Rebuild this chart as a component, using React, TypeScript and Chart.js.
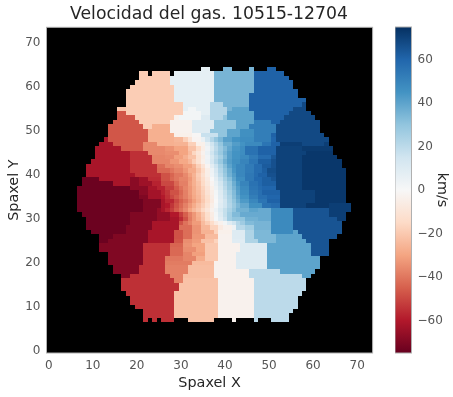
import React, { useEffect, useRef } from "react";
import { Chart, registerables } from "chart.js";

Chart.register(...registerables);

const TITLE = "Velocidad del gas. 10515-12704";
const X_LABEL = "Spaxel X";
const Y_LABEL = "Spaxel Y";
const BAR_LABEL = "km/s";
const AXIS_TICKS = [0, 10, 20, 30, 40, 50, 60, 70];
const BAR_TICKS = [-60, -40, -20, 0, 20, 40, 60];
const V_MIN = -75;
const V_MAX = 75;
const TOP_ROW = 64;

// RdBu colormap stops, low to high
const COLOR_STOPS = [
  [103, 0, 31], [178, 24, 43], [214, 96, 77], [244, 165, 130], [253, 219, 199],
  [247, 247, 247], [209, 229, 240], [146, 197, 222], [67, 147, 195], [33, 102, 172], [5, 48, 97],
];

// Each row, from the top of the map: first column, then (value, last column) pairs; null is a gap.
const ROWS: (number | null)[][] = [
  [35, 7,36, null,39, 35,41, null,45, 35,46, null,49, 61,51],
  [21, -19,22, null,23, -19,27, null,28, 7,37, 35,46, 61,53],
  [21, -19,27, 7,37, 35,46, 61,54],
  [20, -19,27, 7,37, 35,46, 61,55],
  [19, -19,28, 7,37, 35,46, 61,55],
  [18, -19,28, 7,37, 35,46, 61,56],
  [18, -19,28, 7,37, 35,45, 61,56],
  [18, -19,28, 7,37, 35,45, 61,58],
  [18, -19,30, 7,36, 22,39, 35,45, 61,57, 68,58],
  [16, -21,17, -19,30, 7,31, 2,33, 7,36, 22,40, 35,41, 40,45, 61,55, 68,58],
  [16, -47,17, -19,30, 2,34, 7,36, 22,40, 40,46, 61,54, 68,59],
  [16, -47,19, -19,28, -3,29, 2,34, 10,36, 22,39, 30,40, 40,46, 61,53, 68,60],
  [15, -47,20, -19,27, -3,32, 10,37, 30,42, 40,46, 52,50, 61,52, 68,61],
  [14, -47,21, -19,23, -27,27, -3,32, 10,37, 30,42, 40,45, 52,51, 68,61],
  [14, -47,22, -27,27, -3,32, 10,36, 30,40, 40,43, 46,46, 52,51, 68,61],
  [14, -47,22, -27,28, -4,32, -1,34, 17,38, 30,40, 40,43, 46,46, 52,50, 61,51, 68,62],
  [13, -62,13, -47,22, -27,28, -25,30, -18,31, -10,32, -2,34, 5,35, 15,36, 22,37, 29,38, 34,39, 41,41, 45,43, 47,46, 52,50, 60,51, 68,63],
  [12, -62,14, -47,21, -36,24, -27,28, -26,31, -18,33, -4,35, 6,36, 15,37, 22,38, 29,39, 37,41, 42,43, 45,44, 48,48, 55,50, 61,52, 71,57, 68,62, 71,63],
  [11, -62,16, -47,21, -36,26, -34,28, -30,31, -22,33, -14,34, -5,35, 3,36, 12,37, 20,38, 27,39, 33,40, 39,41, 44,43, 47,44, 56,47, 61,51, 70,57, 72,64],
  [11, -62,18, -55,22, -36,26, -35,29, -30,31, -24,32, -16,33, -10,34, -3,35, 5,36, 15,37, 22,38, 28,39, 35,40, 41,41, 45,43, 47,44, 56,47, 61,51, 70,58, 73,64],
  [11, -62,18, -55,23, -37,26, -36,28, -31,30, -27,31, -22,33, -12,34, -5,35, 3,36, 12,37, 19,38, 25,39, 33,40, 41,41, 45,43, 48,45, 53,47, 58,50, 64,51, 70,57, 73,65],
  [10, -62,18, -55,23, -37,27, -33,29, -29,31, -25,32, -18,33, -12,34, -4,35, 4,36, 13,37, 21,38, 28,39, 36,40, 42,41, 46,43, 50,45, 55,47, 62,50, 66,51, 70,57, 73,66],
  [9, -62,18, -55,24, -42,26, -37,28, -35,30, -31,32, -26,33, -18,34, -10,35, -2,36, 8,37, 16,38, 24,39, 32,40, 40,41, 45,42, 49,44, 53,46, 58,48, 63,50, 66,51, 70,57, 73,66],
  [9, -62,18, -55,24, -43,27, -40,28, -37,30, -33,31, -28,33, -21,34, -14,35, -5,36, 4,37, 13,38, 22,39, 30,40, 37,41, 44,42, 49,44, 53,46, 58,48, 62,49, 67,51, 70,57, 73,67],
  [9, -62,19, -55,25, -48,27, -44,28, -40,30, -36,31, -31,32, -26,33, -19,34, -12,35, -5,36, 3,37, 11,38, 20,39, 28,40, 36,41, 42,42, 49,44, 54,46, 58,47, 61,49, 66,51, 70,57, 73,67],
  [8, -74,11, -62,18, -68,20, -64,22, -56,25, -48,27, -43,28, -40,29, -37,31, -33,32, -27,33, -20,34, -14,35, -7,36, 0,37, 8,38, 17,39, 25,40, 32,41, 40,42, 47,44, 54,46, 59,48, 62,50, 65,51, 70,57, 73,67],
  [8, -74,14, -62,18, -68,20, -64,23, -58,25, -50,28, -43,29, -38,31, -32,32, -27,33, -22,34, -15,35, -8,36, -2,37, 6,38, 14,39, 22,40, 29,41, 37,42, 44,43, 50,45, 56,47, 59,48, 62,51, 70,57, 73,67],
  [7, -74,18, -68,22, -62,24, -58,26, -52,28, -46,29, -41,30, -37,31, -33,32, -28,33, -23,34, -17,35, -10,36, -4,37, 4,38, 12,39, 20,40, 28,41, 35,42, 42,43, 48,45, 55,47, 58,48, 60,51, 70,57, 73,67],
  [7, -74,20, -68,22, -63,25, -58,26, -54,27, -48,29, -43,30, -38,31, -33,32, -28,33, -24,34, -18,35, -11,36, -5,37, 2,38, 10,39, 18,40, 26,41, 33,42, 41,43, 47,45, 54,47, 57,48, 61,52, 70,60, 73,67],
  [7, -74,20, -70,22, -63,25, -60,26, -55,27, -50,28, -46,29, -42,30, -38,31, -34,32, -29,33, -25,34, -19,35, -13,36, -6,37, 1,38, 9,39, 17,40, 24,41, 32,42, 39,43, 45,45, 52,47, 57,49, 60,52, 70,60, 73,67],
  [7, -74,21, -70,25, -62,26, -57,28, -50,29, -45,30, -41,31, -36,32, -31,33, -26,34, -20,35, -14,36, -7,37, 0,38, 8,39, 15,40, 23,41, 30,42, 37,43, 43,45, 49,47, 55,49, 61,52, 70,60, 73,67],
  [7, -74,21, -70,25, -62,26, -60,27, -54,28, -48,29, -43,30, -38,31, -33,32, -28,33, -23,34, -18,35, -12,36, -5,37, 1,38, 9,39, 15,40, 22,41, 28,42, 34,43, 39,45, 46,48, 56,50, 58,52, 70,58, 73,63, 71,68],
  [7, -74,21, -70,24, -66,25, -62,26, -57,27, -52,28, -46,29, -41,30, -36,31, -30,32, -25,33, -21,34, -15,35, -9,36, -3,37, 4,38, 12,39, 18,40, 24,41, 30,42, 36,45, 40,47, 38,50, 48,55, 65,63, 71,68],
  [8, -74,18, -70,24, -66,27, -60,29, -52,30, -45,31, -38,32, -33,33, -27,34, -20,35, -13,36, -6,37, 2,38, 10,39, 18,40, 26,41, 33,43, 38,46, 38,50, 48,55, 65,63, 71,67],
  [9, -74,18, -70,24, -66,27, -62,29, -56,30, -48,31, -39,32, -33,33, -28,34, -21,35, -14,36, -7,37, 1,38, 8,39, 16,40, 26,41, 30,44, 36,47, 38,50, 48,55, 65,65, 71,67],
  [9, -74,18, -70,23, -62,29, -48,30, -41,31, -37,32, -32,34, -24,35, -19,36, -14,37, -7,38, -3,39, 2,40, 9,41, 15,42, 22,43, 27,44, 33,46, 35,50, 48,55, 65,66],
  [9, -74,17, -70,23, -62,29, -42,32, -34,34, -25,36, -17,38, -7,39, -3,41, 4,42, 21,44, 26,46, 35,50, 48,55, 65,66],
  [10, -74,17, -70,22, -62,28, -48,30, -42,32, -34,34, -26,37, -17,38, -4,41, 10,44, 23,46, 34,50, 48,55, 40,56, 65,66],
  [12, -74,14, -70,22, -62,28, -48,30, -42,32, -33,35, -24,38, -3,41, 10,44, 23,46, 34,51, 40,57, 65,65],
  [12, -74,13, -70,22, -62,28, -47,30, -35,32, -32,34, -22,37, -17,38, -3,41, 9,44, 23,47, 34,51, 40,58, 65,63],
  [12, -70,21, -55,27, -44,30, -34,32, -30,35, -20,38, -3,43, 10,49, 40,59, 65,63],
  [12, -70,21, -55,27, -43,30, -35,33, -30,35, -20,38, -3,43, 10,49, 40,59, 65,63],
  [14, -70,21, -55,27, -43,30, -37,32, -31,35, -20,38, -3,42, 10,49, 40,59, 65,63],
  [14, -70,21, -55,26, -40,30, -37,33, -28,35, -20,38, -3,42, 10,49, 40,61],
  [14, -70,21, -55,26, -39,32, -24,37, -3,42, 10,49, 40,61],
  [15, -70,20, -55,26, -38,31, -23,37, -3,42, 10,49, 40,61],
  [15, -70,20, -55,26, -38,31, -23,37, -3,45, 20,52, 40,60],
  [17, -70,18, -55,27, -38,30, -23,37, -3,45, 20,57, 40,59],
  [17, -55,28, -38,30, -22,38, -3,46, 20,58],
  [17, -55,29, -22,38, -3,46, 20,58],
  [17, -55,29, -22,38, -3,46, 20,58],
  [18, -55,28, -22,38, -3,46, 20,57],
  [19, -55,28, -22,38, -3,46, 20,56],
  [19, -55,28, -22,38, -3,46, 20,56],
  [20, -55,28, -22,38, -3,46, 20,56],
  [22, -55,28, -22,38, -3,46, 20,55],
  [22, -55,28, -22,38, -3,46, 20,54],
  [22, -55,22, null,23, -55,24, null,25, -55,28, null,31, -22,37, null,41, -3,42, null,46, 20,47, null,50, 20,54],
];

function colorOf(v: number): string {
  const t = Math.min(0.9999, Math.max(0, (v - V_MIN) / (V_MAX - V_MIN))) * (COLOR_STOPS.length - 1);
  const i = Math.floor(t);
  const f = t - i;
  const a = COLOR_STOPS[i];
  const b = COLOR_STOPS[i + 1];
  return `rgb(${a.map((c, n) => Math.round(c + (b[n] - c) * f)).join(",")})`;
}

function cellsFromRows() {
  const cells: { x: number; y: number; v: number }[] = [];
  ROWS.forEach((row, k) => {
    let col = row[0] as number;
    for (let i = 1; i < row.length; i += 2) {
      const v = row[i];
      const end = row[i + 1] as number;
      for (; col <= end; col++) {
        if (v !== null) cells.push({ x: col, y: TOP_ROW - k, v });
      }
    }
  });
  return cells;
}

const FONT = "'DejaVu Sans'";
const TICK_COLOR = "#555555";
const SPINE = "#b0b0b0";

const frame = (fill: boolean) => ({
  id: "frame",
  beforeDatasetsDraw(chart: any) {
    if (!fill) return;
    const a = chart.chartArea;
    chart.ctx.save();
    chart.ctx.fillStyle = "#000000";
    chart.ctx.fillRect(a.left, a.top, a.width, a.height);
    chart.ctx.restore();
  },
  afterDatasetsDraw(chart: any) {
    const a = chart.chartArea;
    chart.ctx.save();
    chart.ctx.strokeStyle = SPINE;
    chart.ctx.lineWidth = 1;
    chart.ctx.strokeRect(a.left, a.top, a.width, a.height);
    chart.ctx.restore();
  },
});

// Paints each point element as one pixel-snapped image cell, so no seams appear between cells.
const snappedCells = {
  id: "snappedCells",
  beforeDatasetDraw(chart: any, args: any) {
    const { x: sx, y: sy } = chart.scales;
    const hw = Math.abs(sx.getPixelForValue(1) - sx.getPixelForValue(0)) / 2;
    const hh = Math.abs(sy.getPixelForValue(1) - sy.getPixelForValue(0)) / 2;
    const ctx = chart.ctx;
    ctx.save();
    args.meta.data.forEach((el: any) => {
      const x0 = Math.round(el.x - hw);
      const x1 = Math.round(el.x + hw);
      const y0 = Math.round(el.y - hh);
      const y1 = Math.round(el.y + hh);
      ctx.fillStyle = el.options.backgroundColor;
      ctx.fillRect(x0, y0, x1 - x0, y1 - y0);
    });
    ctx.restore();
    return false;
  },
};

export default function App() {
  const mapRef = useRef<HTMLCanvasElement>(null);
  const barRef = useRef<HTMLCanvasElement>(null);

  useEffect(() => {
    const map = new Chart(mapRef.current!, {
      type: "scatter",
      data: {
        datasets: [
          {
            data: cellsFromRows() as any,
            pointStyle: "rect",
            pointRadius: 3.11,
            borderWidth: 0,
            backgroundColor: (c: any) => (c.raw ? colorOf(c.raw.v) : "#000"),
          },
        ],
      },
      options: {
        animation: false,
        responsive: false,
        events: [],
        layout: { padding: { top: 0, right: 0, left: 0, bottom: 5 } },
        plugins: {
          legend: { display: false },
          tooltip: { enabled: false },
          title: {
            display: true,
            text: TITLE,
            color: "#262626",
            font: { family: FONT, size: 17.25, weight: "normal" },
            padding: { top: 4, bottom: 2.6 },
          },
        },
        scales: {
          x: {
            type: "linear",
            min: -0.5,
            max: 73.5,
            grid: { display: false, drawTicks: false },
            border: { display: false },
            afterFit: (s: any) => { s.height = 39; },
            afterBuildTicks: (s: any) => { s.ticks = AXIS_TICKS.map((value) => ({ value })); },
            ticks: { color: TICK_COLOR, font: { family: FONT, size: 12 }, padding: 6, maxRotation: 0, autoSkip: false },
            title: { display: true, text: X_LABEL, color: "#262626", font: { family: FONT, size: 14.4 }, padding: { top: 1, bottom: 0 } },
          },
          y: {
            type: "linear",
            min: -0.5,
            max: 73.5,
            grid: { display: false, drawTicks: false },
            border: { display: false },
            afterFit: (s: any) => { s.width = 46.5; },
            afterBuildTicks: (s: any) => { s.ticks = AXIS_TICKS.map((value) => ({ value })); },
            ticks: { color: TICK_COLOR, font: { family: FONT, size: 12 }, padding: 6, autoSkip: false },
            title: { display: true, text: Y_LABEL, color: "#262626", font: { family: FONT, size: 14.4 }, padding: { top: 6, bottom: 2 } },
          },
          // Empty axis that only reserves the room right of the map, so the title centres over it.
          spacer: {
            type: "linear",
            position: "right",
            grid: { display: false, drawTicks: false },
            border: { display: false },
            ticks: { display: false },
            afterFit: (s: any) => { s.width = 45.4; },
          },
        },
      },
      plugins: [frame(true), snappedCells],
    } as any);

    const bar = new Chart(barRef.current!, {
      type: "bar",
      data: {
        labels: [BAR_LABEL],
        datasets: [
          {
            data: [[V_MIN, V_MAX]] as any,
            barPercentage: 1,
            categoryPercentage: 1,
            backgroundColor: (c: any) => {
              const a = c.chart.chartArea;
              if (!a) return "#888";
              const g = c.chart.ctx.createLinearGradient(0, a.bottom, 0, a.top);
              COLOR_STOPS.forEach((s, i) => g.addColorStop(i / (COLOR_STOPS.length - 1), `rgb(${s.join(",")})`));
              return g;
            },
          },
        ],
      },
      options: {
        animation: false,
        responsive: false,
        events: [],
        layout: { padding: { top: 27, right: 3, left: 0, bottom: 44 } },
        plugins: { legend: { display: false }, tooltip: { enabled: false } },
        scales: {
          x: { display: false, grid: { display: false } },
          y: {
            position: "right",
            min: V_MIN,
            max: V_MAX,
            grid: { display: false, drawTicks: false },
            border: { display: false },
            afterFit: (s: any) => { s.width = 38.5; },
            afterBuildTicks: (s: any) => { s.ticks = BAR_TICKS.map((value) => ({ value })); },
            ticks: {
              color: TICK_COLOR,
              font: { family: FONT, size: 12 },
              padding: 6,
              autoSkip: false,
              callback: (v: any) => String(v).replace("-", "\u2212"),
            },
            title: { display: true, text: BAR_LABEL, color: "#262626", font: { family: FONT, size: 14.4 }, padding: { top: 0, bottom: 0 } },
          },
        },
      },
      plugins: [frame(false)],
    } as any);

    return () => {
      map.destroy();
      bar.destroy();
    };
  }, []);

  return (
    <div style={{ position: "fixed", left: 0, top: 0, width: 453, height: 397, background: "#fff" }}>
      <canvas ref={mapRef} width={418} height={397} style={{ position: "absolute", left: 0, top: 0 }} />
      <canvas ref={barRef} width={58} height={397} style={{ position: "absolute", left: 395, top: 0 }} />
    </div>
  );
}
